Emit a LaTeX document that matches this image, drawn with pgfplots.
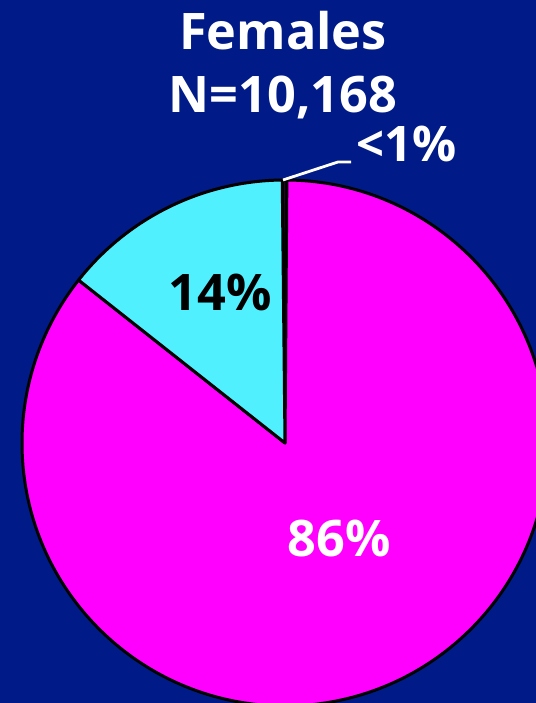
\documentclass[border=0pt]{standalone}
\usepackage{pgfplots}
\pgfplotsset{compat=1.18}
\usepackage{pgfplotstable}
\usepackage{fontspec}
\setmainfont{Open Sans}
\definecolor{bg}{RGB}{0,26,136}
\definecolor{pmag}{RGB}{255,0,255}
\definecolor{pcyan}{RGB}{80,240,255}
\definecolor{pdark}{RGB}{40,0,40}
% slice shares (percent), clockwise from 12 o'clock
\pgfplotstableread{
name pct
other 0.28
magenta 85.52
cyan 14.20
}\piedata
\pgfplotstablegetelem{0}{pct}\of\piedata \let\pOther\pgfplotsretval
\pgfplotstablegetelem{1}{pct}\of\piedata \let\pMag\pgfplotsretval
\pgfplotstablegetelem{2}{pct}\of\piedata \let\pCyan\pgfplotsretval
\pgfmathsetmacro{\aStart}{90.6}
\pgfmathsetmacro{\aA}{\aStart-3.6*\pOther}
\pgfmathsetmacro{\aB}{\aA-3.6*\pMag}
\pgfmathsetmacro{\aC}{\aB-3.6*\pCyan}
\begin{document}
\begin{tikzpicture}
\begin{axis}[
  hide axis, scale only axis,
  width=268bp, height=351.5bp,
  xmin=0, xmax=536, ymin=0, ymax=703,
  clip=true,
]
\coordinate (sw) at (axis cs:0,0);
\coordinate (ne) at (axis cs:536,703);
\fill[bg] (axis cs:0,0) rectangle (axis cs:536,703);
% pie, centre (285,443) in image px, radius 263 px
\filldraw[fill=pdark, draw=black, line width=1.5bp, line join=round]
  (axis cs:285,260) -- ++(\aStart:131.5bp) arc[start angle=\aStart, end angle=\aA, radius=131.5bp] -- cycle;
\filldraw[fill=pmag, draw=black, line width=1.5bp, line join=round]
  (axis cs:285,260) -- ++(\aA:131.5bp) arc[start angle=\aA, end angle=\aB, radius=131.5bp] -- cycle;
\filldraw[fill=pcyan, draw=black, line width=1.5bp, line join=round]
  (axis cs:285,260) -- ++(\aB:131.5bp) arc[start angle=\aB, end angle=\aC, radius=131.5bp] -- cycle;
% leader line
\draw[white, line width=1.4bp] (axis cs:283,523) -- (axis cs:338,541) -- (axis cs:351,541);
% texts
\node[anchor=base, white, font=\fontsize{25.2bp}{30bp}\selectfont\bfseries] at (axis cs:283,653) {Females};
\node[anchor=base, white, font=\fontsize{25.2bp}{30bp}\selectfont\bfseries] at (axis cs:283,590) {N=10,168};
\node[anchor=base, white, font=\fontsize{24.5bp}{29bp}\selectfont\bfseries] at (axis cs:407,541) {<1\%};
\node[anchor=base, black, font=\fontsize{25.2bp}{30bp}\selectfont\bfseries] at (axis cs:220,392) {14\%};
\node[anchor=base, white, font=\fontsize{25.2bp}{30bp}\selectfont\bfseries] at (axis cs:339,146) {86\%};
\end{axis}
\pgfresetboundingbox
\path[use as bounding box] (sw) rectangle (ne);
\end{tikzpicture}
\end{document}
